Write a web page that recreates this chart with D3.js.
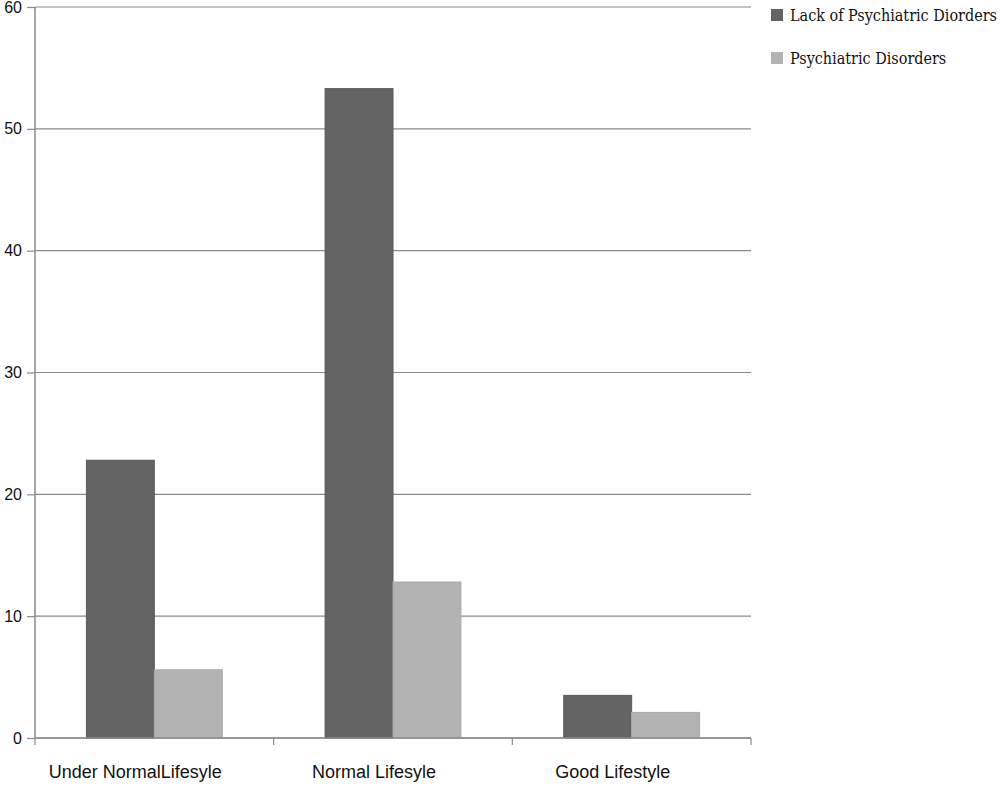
<!DOCTYPE html>
<html><head><meta charset="utf-8">
<script src="https://cdn.jsdelivr.net/npm/d3@7"></script>
<style>body{margin:0;background:#fff}</style>
</head><body>
<svg id="c" width="1000" height="790"></svg>
<script>
const categories = ["Under NormalLifesyle", "Normal Lifesyle", "Good Lifestyle"];
const seriesNames = ["Lack of Psychiatric Diorders", "Psychiatric Disorders"];
const lackValues = [22.8, 53.3, 3.5];
const disorderValues = [5.6, 12.8, 2.1];
const yTicks = [0, 10, 20, 30, 40, 50, 60];
const colors = ["#636363", "#b3b3b3"];

const svg = d3.select("#c");
const mLeft = 35, mRight = 751, mTop = 7, mBottom = 738;
const x = d3.scaleBand().domain(categories).range([mLeft, mRight]).paddingInner(0).paddingOuter(0);
const xs = d3.scaleBand().domain(seriesNames).range([0, x.bandwidth()]).paddingInner(0).paddingOuter(0.757);
const y = d3.scaleLinear().domain([0, 60]).range([mBottom, mTop]);

// gridlines
svg.append("g").selectAll("line").data(yTicks).join("line")
  .attr("x1", mLeft).attr("x2", mRight)
  .attr("y1", d => y(d)).attr("y2", d => y(d))
  .attr("stroke", "#8a8a8a").attr("stroke-width", 1.2);

// bars
const data = categories.map((c, i) => ({c, vals: [lackValues[i], disorderValues[i]]}));
const g = svg.append("g").selectAll("g").data(data).join("g")
  .attr("transform", d => `translate(${x(d.c)},0)`);
g.selectAll("rect").data(d => d.vals.map((v, j) => ({v, s: seriesNames[j], j}))).join("rect")
  .attr("x", d => xs(d.s)).attr("width", xs.bandwidth())
  .attr("y", d => y(d.v)).attr("height", d => y(0) - y(d.v))
  .attr("fill", d => colors[d.j]).attr("stroke", d => d.j ? "#a9a9a9" : "#5a5a5a").attr("stroke-width", 1);

// y axis
const ya = svg.append("g").attr("transform", `translate(${mLeft},0)`)
  .call(d3.axisLeft(y).tickValues(yTicks).tickSize(8).tickPadding(5).tickFormat(d3.format("d")));
ya.select(".domain").attr("stroke", "#8a8a8a").attr("stroke-width", 1.5).attr("d", `M0,${mTop}V${mBottom}`);
ya.selectAll(".tick line").attr("stroke", "#8a8a8a").attr("stroke-width", 1.2);
ya.selectAll("text").attr("font-family", "Liberation Sans").attr("font-size", 16).attr("fill", "#111");

// x axis
const xa = svg.append("g").attr("transform", `translate(0,${mBottom})`)
  .call(d3.axisBottom(x).tickSize(0).tickFormat(""));
xa.select(".domain").attr("stroke", "#8a8a8a").attr("stroke-width", 1.5).attr("d", `M${mLeft},0H${mRight}`);
const bounds = [mLeft].concat(categories.map(c => x(c) + x.bandwidth()));
xa.append("g").selectAll("line").data(bounds).join("line")
  .attr("x1", d => d).attr("x2", d => d).attr("y1", 0).attr("y2", 7)
  .attr("stroke", "#8a8a8a").attr("stroke-width", 1.2);
xa.append("g").selectAll("text").data(categories).join("text")
  .attr("x", d => x(d) + x.bandwidth() / 2 - 19).attr("y", 40)
  .attr("text-anchor", "middle")
  .attr("font-family", "Liberation Sans").attr("font-size", 18).attr("fill", "#111")
  .text(d => d);

// legend
const lg = svg.append("g").selectAll("g").data(seriesNames).join("g")
  .attr("transform", (d, i) => `translate(771,${9 + i * 43})`);
lg.append("rect").attr("width", 12).attr("height", 12).attr("fill", (d, i) => colors[i]);
lg.append("text").attr("x", 19).attr("y", 12)
  .attr("font-family", "DejaVu Serif Condensed, DejaVu Serif").attr("font-size", 16).attr("fill", "#111")
  .text(d => d);
</script>
</body></html>
